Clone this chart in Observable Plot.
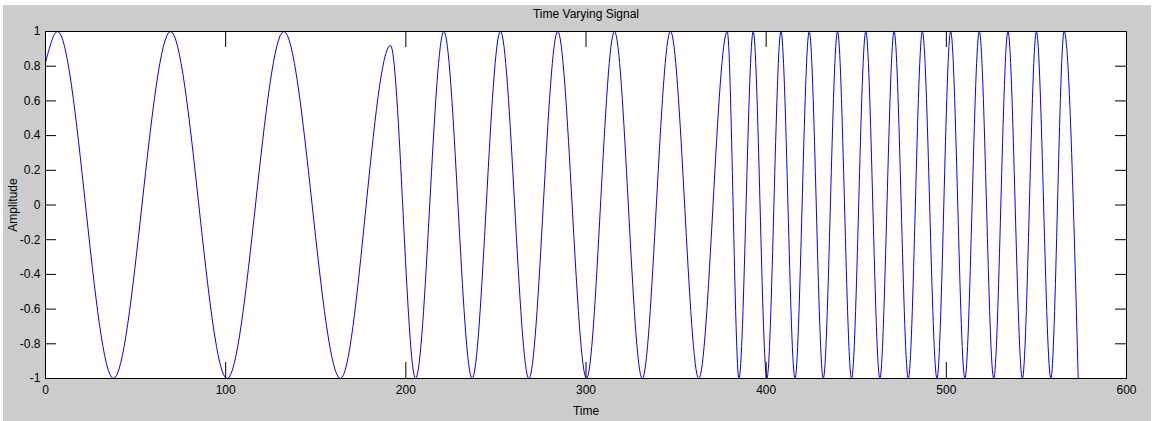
<!DOCTYPE html>
<html><head><meta charset="utf-8">
<script src="https://cdn.jsdelivr.net/npm/d3@7"></script>
<script src="https://cdn.jsdelivr.net/npm/@observablehq/plot@0.6"></script>
<style>
html,body{margin:0;padding:0;background:#fff;}
#chart svg{display:block;box-shadow: inset 3px 5px 0 #fff, inset -2px 0 0 #fff;}
</style></head><body><div id="chart"></div>
<script>
const title = "Time Varying Signal";
const xLabel = "Time";
const yLabel = "Amplitude";
const xTicks = [0, 100, 200, 300, 400, 500, 600];
const yTicks = [-1, -0.8, -0.6, -0.4, -0.2, 0, 0.2, 0.4, 0.6, 0.8, 1];

// Extrema (and end points) of the signal
const time = [0, 6.7, 37.7, 69.4, 100.8, 132.3, 163.7, 191.5, 205.4, 221.1, 236.8, 252.5, 268.3, 284.3, 300.3, 315.8, 331.2, 346.9, 362.6, 378.4,
  384.9, 392.8, 400.4, 408.2, 416.0, 423.9, 431.7, 439.6, 447.4, 455.3, 463.1, 471.0, 478.9, 486.7, 494.8, 502.4, 510.3, 518.3, 526.3, 534.2, 542.2, 550.0, 558.0, 565.4, 573.2];
const amplitude = [0.82, 1, -1, 1, -1, 1, -1, 0.92, -1, 1, -1, 1, -1, 1, -1, 1, -1, 1, -1, 1,
  -1, 1, -1, 1, -1, 1, -1, 1, -1, 1, -1, 1, -1, 1, -1, 1, -1, 1, -1, 1, -1, 1, -1, 1, -1];

const signal = time.map((t, i) => ({t, a: amplitude[i]}));

const W = 1153, H = 421, ML = 45, MR = 27, MT = 31, MB = 43;
const fw = W - ML - MR, fh = H - MT - MB;
const font = "'Liberation Sans Narrow', 'Liberation Sans', Arial, sans-serif";

const chart = Plot.plot({
  width: W, height: H,
  marginLeft: ML, marginRight: MR, marginTop: MT, marginBottom: MB,
  style: {background: "#cccccc", fontFamily: font, fontSize: "12px", color: "black"},
  x: {domain: [0, 600]},
  y: {domain: [-1, 1]},
  marks: [
    Plot.frame({fill: "white", stroke: null}),
    Plot.line(signal, {x: "t", y: "a", stroke: "blue", strokeWidth: 1, curve: "monotone-x"}),
    Plot.tickX(xTicks, {x: d => d, insetTop: fh - 16, stroke: "black"}),
    Plot.tickX(xTicks, {x: d => d, insetBottom: fh - 16, stroke: "black"}),
    Plot.tickY(yTicks, {y: d => d, insetRight: fw - 11, stroke: "black"}),
    Plot.tickY(yTicks, {y: d => d, insetLeft: fw - 11, stroke: "black"}),
    Plot.frame({stroke: "black"}),
    Plot.axisX({ticks: xTicks, tickSize: 0, tickPadding: 7, label: null, tickFormat: d => String(d)}),
    Plot.axisY({ticks: yTicks, tickSize: 0, tickPadding: 5, label: null, tickFormat: d => String(Math.round(d * 10) / 10)}),
    Plot.text([title], {frameAnchor: "top", dy: -17, lineAnchor: "middle", textAnchor: "middle", text: d => d, fontSize: 12}),
    Plot.text([xLabel], {frameAnchor: "bottom", dy: 33, lineAnchor: "middle", textAnchor: "middle", text: d => d, fontSize: 12}),
    Plot.text([yLabel], {frameAnchor: "left", dx: -32, rotate: -90, lineAnchor: "middle", textAnchor: "middle", text: d => d, fontSize: 12})
  ]
});
document.getElementById("chart").appendChild(chart);
</script>
</body></html>
